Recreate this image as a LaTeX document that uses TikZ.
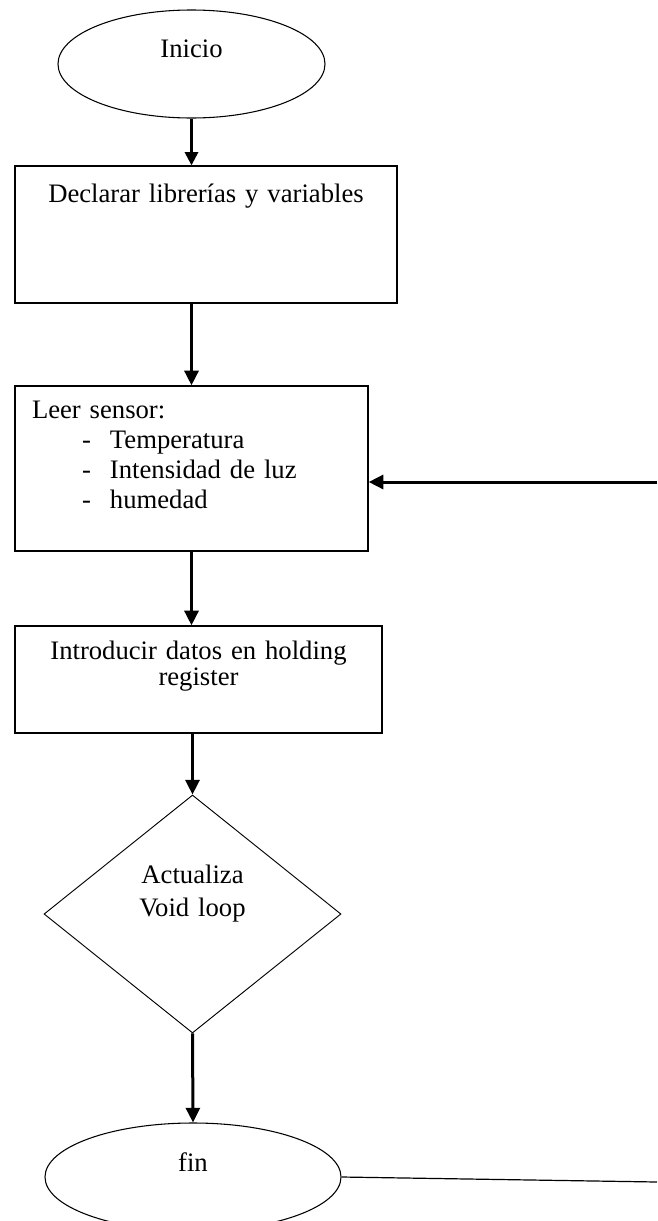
\documentclass[tikz,border=0pt]{standalone}
\usepackage{fontspec}
\setmainfont{Liberation Serif}
\usetikzlibrary{shapes.geometric,arrows.meta,calc}
\tikzset{
  base/.style={font=\fontsize{20pt}{22.5pt}\selectfont, text=black, inner sep=0pt, text height=14pt},
  ovalbox/.style={base, ellipse, draw, line width=0.8pt},
  procbox/.style={base, rectangle, draw, line width=1pt},
  decbox/.style={base, diamond, draw, line width=0.7pt, text width=90pt, align=center},
  arr/.style={line width=2.25pt, -{Triangle[length=11pt,width=10.5pt]}},
  thinarr/.style={line width=1.8pt, -{Triangle[length=10pt,width=10pt]}},
  plainline/.style={line width=0.9pt}
}
\begin{document}
\begin{tikzpicture}[x=0.75pt,y=-0.75pt]
\useasboundingbox (0,0) rectangle (657,1221);
\fill[white] (0,0) rectangle (657,1221);

\node[ovalbox, minimum width=200.25pt, minimum height=81pt, text depth=24pt] (inicio) at (191.5,64) {Inicio};

\node[procbox, minimum height=102.75pt, text width=286.5pt, align=center, text depth=62pt] (declarar) at (206,234.5) {Declarar librerías y variables};

\node[procbox, minimum height=123.75pt, inner xsep=12.75pt, text width=239.25pt, align=left, text depth=89.75pt] (leer) at (191.5,468.5)
  {Leer sensor:\\
   \hspace*{37.5pt}\makebox[21pt][l]{-}Temperatura\\
   \hspace*{37.5pt}\makebox[21pt][l]{-}Intensidad de luz\\
   \hspace*{37.5pt}\makebox[21pt][l]{-}humedad};

\node[procbox, minimum height=80.25pt, text width=275.25pt, align=center, text depth=44.75pt,
      font=\fontsize{20pt}{19.5pt}\selectfont] (intro) at (198.5,679.5)
  {Introducir datos en holding\\register};

\node[decbox, minimum width=222.75pt, minimum height=178.5pt, text depth=60.5pt,
      font=\fontsize{20pt}{24.75pt}\selectfont] (dia) at (192.5,914)
  {Actualiza\\Void loop};

\node[ovalbox, minimum width=222pt, minimum height=81pt, text depth=22pt] (fin) at (193,1177) {fin};

\coordinate (loopin) at (657,482);
\coordinate (loopout) at (657,1182);

\draw[thinarr] (inicio.south) -- (inicio.south |- declarar.north);
\draw[arr] (declarar.south -| leer.north) -- (leer.north);
\draw[arr] (leer.south) -- (leer.south |- intro.north);
\draw[arr] (intro.south -| dia.north) -- (dia.north);
\draw[arr] (dia.south) -- (fin.north);
\draw[arr] (loopin) -- (loopin -| leer.east);
\draw[plainline] (fin.east) -- (loopout);
\end{tikzpicture}
\end{document}
